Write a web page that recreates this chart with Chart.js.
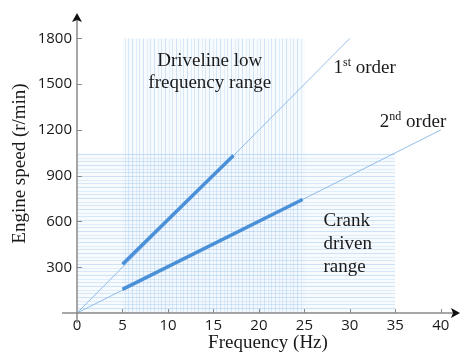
<!DOCTYPE html>
<html>
<head>
<meta charset="utf-8">
<script src="https://cdn.jsdelivr.net/npm/chart.js@4.4.0/dist/chart.umd.min.js"></script>
<style>
html, body { margin: 0; padding: 0; background: #fff; }
</style>
</head>
<body>
<canvas id="chart" width="465" height="354"></canvas>
<script>
// ticks dos eixos
const xTicks = [0, 5, 10, 15, 20, 25, 30, 35, 40];
const yTicks = [300, 600, 900, 1200, 1500, 1800];

// linhas de ordem (finas)
const order1Freq = [0, 30];
const order1Speed = [0, 1800];
const order2Freq = [0, 40];
const order2Speed = [0, 1200];

// trechos grossos dentro das duas faixas
const crank1Freq = [5, 17.2];
const crank1Speed = [320, 1032];
const crank2Freq = [5, 24.8];
const crank2Speed = [155, 744];

// faixas hachuradas
const drivelineFreq = [5, 25];
const drivelineSpeed = [1800, 1800];
const crankRangeFreq = [0, 35];
const crankRangeSpeed = [1050, 1050];

const toPoints = (xs, ys) => xs.map((x, i) => ({ x: x, y: ys[i] }));

// padrão de hachura (vertical ou horizontal)
function hatch(vertical) {
    const c = document.createElement('canvas');
    const n = 11;
    c.width = vertical ? n : 1;
    c.height = vertical ? 1 : n;
    const g = c.getContext('2d');
    g.fillStyle = 'rgba(220,235,250,0.2)';
    g.fillRect(0, 0, c.width, c.height);
    const lines = [[0, 0.38], [4, 0.22], [7, 0.3]];
    lines.forEach(([p, a]) => {
        g.fillStyle = 'rgba(135,185,230,' + a + ')';
        if (vertical) g.fillRect(p, 0, 1, 1); else g.fillRect(0, p, 1, 1);
    });
    return g.createPattern(c, 'repeat');
}

const serif = '"Liberation Serif", "Times New Roman", serif';
const sans = '"Open Sans", "Liberation Sans", sans-serif';

// eixos com setas, marcas e textos
const decor = {
    id: 'decor',
    afterDatasetsDraw(chart) {
        const ctx = chart.ctx;
        const xs = chart.scales.x, ys = chart.scales.y;
        const x0 = xs.getPixelForValue(0), y0 = ys.getPixelForValue(0);
        const area = chart.chartArea;
        ctx.save();
        ctx.strokeStyle = '#8a8a8a';
        ctx.lineWidth = 1.5;
        ctx.beginPath();
        ctx.moveTo(x0 - 15, y0); ctx.lineTo(area.right - 2, y0);
        ctx.moveTo(x0, y0 + 10); ctx.lineTo(x0, area.top + 2);
        ctx.stroke();
        ctx.lineWidth = 1;
        ctx.beginPath();
        xTicks.slice(1).forEach(v => {
            const p = Math.round(xs.getPixelForValue(v)) + 0.5;
            ctx.moveTo(p, y0); ctx.lineTo(p, y0 - 4);
        });
        yTicks.forEach(v => {
            const p = Math.round(ys.getPixelForValue(v)) + 0.5;
            ctx.moveTo(x0, p); ctx.lineTo(x0 + 5, p);
        });
        ctx.stroke();
        // setas
        ctx.fillStyle = '#111';
        ctx.beginPath();
        ctx.moveTo(x0, area.top - 1);
        ctx.lineTo(x0 + 5, area.top + 8);
        ctx.lineTo(x0, area.top + 6);
        ctx.lineTo(x0 - 5, area.top + 8);
        ctx.closePath(); ctx.fill();
        ctx.beginPath();
        ctx.moveTo(area.right + 1, y0);
        ctx.lineTo(area.right - 8, y0 - 5);
        ctx.lineTo(area.right - 6, y0);
        ctx.lineTo(area.right - 8, y0 + 5);
        ctx.closePath(); ctx.fill();

        // textos
        ctx.fillStyle = '#1a1a1a';
        ctx.textBaseline = 'middle';
        ctx.font = '19px ' + serif;
        ctx.textAlign = 'center';
        const px = v => xs.getPixelForValue(v), py = v => ys.getPixelForValue(v);
        ctx.fillText('Driveline low', px(14.6), py(1655));
        ctx.fillText('frequency range', px(14.6), py(1510));
        ctx.textAlign = 'left';
        ctx.fillText('Crank', px(27.1), py(605));
        ctx.fillText('driven', px(27.1), py(455));
        ctx.fillText('range', px(27.1), py(300));
        function sup(txt, s, rest, x, y) {
            ctx.font = '19px ' + serif;
            ctx.fillText(txt, x, y);
            let w = ctx.measureText(txt).width;
            ctx.font = '12px ' + serif;
            ctx.fillText(s, x + w, y - 5);
            w += ctx.measureText(s).width;
            ctx.font = '19px ' + serif;
            ctx.fillText(rest, x + w, y);
        }
        sup('1', 'st', ' order', px(28.2), py(1605));
        sup('2', 'nd', ' order', px(33.3), py(1255));
        ctx.restore();
    }
};

const lineDs = (xs, ys, color, width, order) => ({
    data: toPoints(xs, ys),
    borderColor: color,
    borderWidth: width,
    pointRadius: 0,
    fill: false,
    order: order
});

new Chart(document.getElementById('chart').getContext('2d'), {
    type: 'scatter',
    data: {
        datasets: [
            lineDs(crank1Freq, crank1Speed, '#4a90d8', 3.5, 0),
            lineDs(crank2Freq, crank2Speed, '#4a90d8', 3.5, 0),
            lineDs(order1Freq, order1Speed, 'rgba(120,172,228,0.8)', 1, 1),
            lineDs(order2Freq, order2Speed, 'rgba(120,172,228,0.8)', 1, 1),
            {
                data: toPoints(drivelineFreq, drivelineSpeed),
                showLine: true, borderWidth: 0, pointRadius: 0,
                backgroundColor: hatch(true), fill: 'origin', order: 3
            },
            {
                data: toPoints(crankRangeFreq, crankRangeSpeed),
                showLine: true, borderWidth: 0, pointRadius: 0,
                backgroundColor: hatch(false), fill: 'origin', order: 2
            }
        ]
    },
    options: {
        responsive: false,
        animation: false,
        showLine: true,
        layout: { padding: { top: 12, right: 6, left: 0, bottom: 0 } },
        plugins: { legend: { display: false }, tooltip: { enabled: false } },
        scales: {
            x: {
                type: 'linear', min: 0, max: 42,
                grid: { display: false, drawTicks: false },
                border: { display: false },
                afterBuildTicks: s => { s.ticks = xTicks.map(v => ({ value: v })); },
                afterFit: s => { s.height = 41; },
                ticks: { color: '#1a1a1a', font: { family: sans, size: 15 }, padding: 4, maxRotation: 0,
                    callback: v => String(v) },
                title: { display: true, text: 'Frequency (Hz)', color: '#1a1a1a',
                    font: { family: serif, size: 19 }, padding: { top: 0, bottom: 0 } }
            },
            y: {
                type: 'linear', min: 0, max: 1960,
                grid: { display: false, drawTicks: false },
                border: { display: false },
                afterBuildTicks: s => { s.ticks = yTicks.map(v => ({ value: v })); },
                afterFit: s => { s.width = 77; },
                ticks: { color: '#1a1a1a', font: { family: sans, size: 15 }, padding: 5,
                    callback: v => String(v) },
                title: { display: true, text: 'Engine speed (r/min)', color: '#1a1a1a',
                    font: { family: serif, size: 19 }, padding: { top: 9, bottom: 0 } }
            }
        }
    },
    plugins: [decor]
});
</script>
</body>
</html>
